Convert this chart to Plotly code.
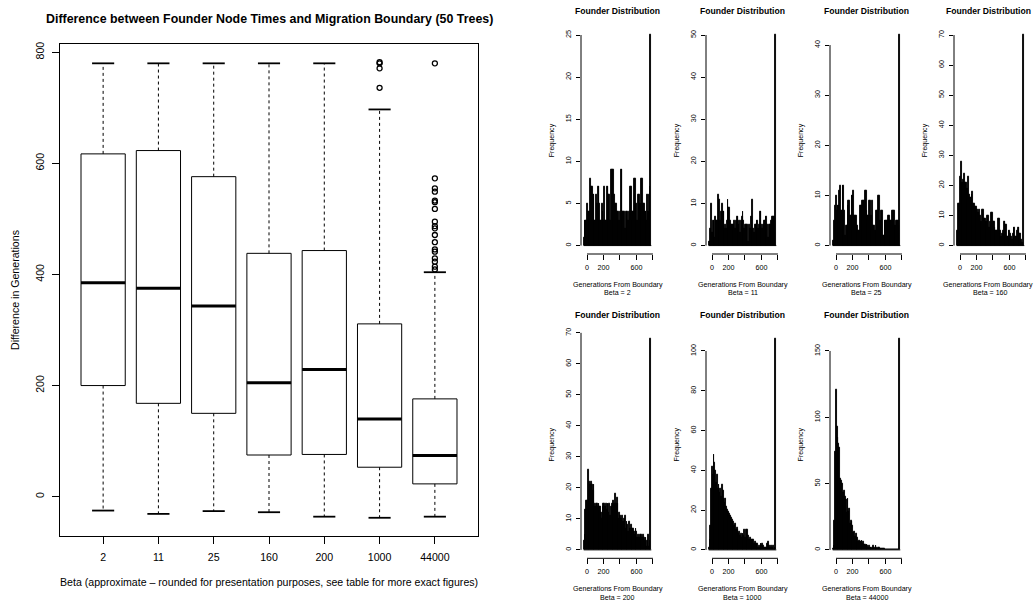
import plotly.graph_objects as go

W, H = 1034, 602
FONT = "Liberation Sans, Arial, Helvetica, sans-serif"

# ---------------- Boxplot data ----------------
beta_labels = ["2", "11", "25", "160", "200", "1000", "44000"]
box_q1 = [200, 168, 150, 75, 76, 53, 23]
box_median = [385, 375, 343, 205, 229, 140, 74]
box_q3 = [617, 623, 576, 438, 443, 311, 176]
box_lower = [-25, -31, -26, -28, -36, -38, -36]
box_upper = [780, 780, 780, 780, 780, 697, 404]
outliers_1000 = [782, 780, 771, 736]
outliers_44000 = [780, 573, 555, 549, 533, 530, 518, 495, 487, 483, 471,
                  458, 445, 441, 429, 423, 414, 409]
box_yticks = [0, 200, 400, 600, 800]

# ---------------- Histogram data (bins of 10, first bin starts at -40) ----------------
bin_start = -40
bin_width = 10
hist_betas = ["2", "11", "25", "160", "200", "1000", "44000"]

counts_2 = [1, 3, 3, 3, 5, 4, 3, 4, 8, 7,
            7, 6, 6, 3, 3, 6, 5, 7, 7, 5,
            3, 3, 5, 4, 3, 7, 3, 3, 7, 7,
            6, 6, 3, 9, 9, 9, 9, 6, 5, 5,
            4, 3, 4, 3, 4, 9, 9, 4, 4, 4,
            2, 4, 4, 4, 3, 4, 7, 7, 3, 4,
            4, 8, 8, 5, 5, 3, 6, 6, 5, 5,
            8, 8, 5, 5, 4, 4, 3, 6, 4, 6,
            7, 25]
counts_11 = [1, 1, 4, 10, 3, 6, 6, 2, 7, 6,
             6, 12, 11, 11, 6, 8, 10, 8, 8, 4,
             5, 4, 6, 11, 9, 9, 6, 5, 5, 4,
             5, 6, 4, 6, 7, 7, 5, 6, 3, 6,
             7, 8, 6, 4, 5, 5, 5, 5, 1, 5,
             4, 7, 7, 11, 4, 3, 5, 5, 6, 6,
             4, 5, 8, 8, 5, 4, 5, 6, 6, 7,
             7, 5, 2, 5, 5, 4, 6, 7, 7, 7,
             3, 50]
counts_25 = [1, 1, 5, 8, 10, 7, 8, 8, 11, 12,
             7, 7, 12, 12, 7, 2, 4, 4, 8, 9,
             9, 6, 6, 10, 10, 11, 6, 6, 6, 4,
             4, 3, 3, 8, 8, 7, 9, 9, 9, 11,
             11, 7, 6, 6, 9, 9, 6, 6, 9, 4,
             4, 3, 3, 7, 7, 10, 10, 5, 5, 7,
             7, 2, 2, 5, 5, 5, 5, 6, 6, 2,
             5, 5, 7, 7, 7, 4, 4, 5, 5, 5,
             4, 42]
counts_160 = [5, 5, 14, 14, 23, 28, 21, 21, 22, 24,
              21, 21, 19, 19, 23, 17, 16, 16, 17, 18,
              14, 14, 13, 13, 13, 12, 11, 12, 10, 8,
              8, 12, 12, 9, 9, 8, 8, 10, 10, 6,
              8, 7, 11, 11, 8, 8, 6, 5, 5, 5,
              9, 9, 5, 5, 3, 4, 5, 8, 8, 7,
              7, 3, 3, 5, 5, 4, 3, 2, 4, 6,
              6, 3, 3, 5, 6, 6, 4, 4, 2, 1,
              1, 70]
counts_200 = [3, 5, 13, 16, 16, 26, 20, 22, 21, 22,
              21, 19, 21, 15, 14, 15, 15, 14, 15, 14,
              14, 12, 10, 14, 15, 15, 14, 15, 13, 15,
              12, 15, 11, 14, 15, 13, 16, 15, 18, 15,
              17, 15, 10, 12, 11, 10, 8, 11, 9, 10,
              11, 7, 9, 8, 6, 9, 7, 8, 6, 7,
              7, 6, 5, 7, 6, 4, 5, 4, 5, 4,
              5, 4, 5, 4, 3, 4, 1, 3, 5, 1,
              3, 68]
counts_1000 = [1, 5, 12, 31, 42, 38, 48, 44, 40, 34,
               38, 31, 33, 29, 31, 27, 33, 30, 26, 24,
               26, 22, 20, 19, 19, 18, 17, 16, 15, 13,
               14, 12, 13, 10, 11, 10, 8, 9, 7, 8,
               6, 8, 7, 10, 6, 10, 8, 10, 7, 5,
               6, 5, 4, 5, 5, 3, 4, 3, 2, 3,
               1, 2, 1, 3, 2, 3, 2, 1, 1, 0,
               1, 3, 4, 2, 1, 0, 2, 1, 2, 0,
               1, 106]
counts_44000 = [1, 3, 22, 74, 121, 93, 85, 80, 77, 54,
                52, 50, 40, 43, 45, 40, 38, 28, 39, 29,
                31, 20, 22, 21, 18, 13, 14, 10, 12, 8,
                9, 6, 7, 6, 6, 7, 5, 6, 4, 4,
                3, 4, 3, 2, 3, 2, 2, 1, 2, 3,
                2, 1, 3, 2, 1, 2, 2, 1, 1, 1,
                1, 1, 1, 0, 0, 0, 0, 0, 0, 0,
                0, 0, 0, 0, 0, 0, 0, 0, 0, 0,
                0, 159]
hist_counts = [counts_2, counts_11, counts_25, counts_160, counts_200,
               counts_1000, counts_44000]
hist_yticks = [[0, 5, 10, 15, 20, 25],
               [0, 10, 20, 30, 40, 50],
               [0, 10, 20, 30, 40],
               [0, 10, 20, 30, 40, 50, 60, 70],
               [0, 10, 20, 30, 40, 50, 60, 70],
               [0, 20, 40, 60, 80, 100],
               [0, 50, 100, 150]]
hist_xticks = [0, 200, 400, 600, 800]
hist_xticktext = ["0", "200", "", "600", ""]

# ---------------- Layout geometry (pixels) ----------------
BOX_L, BOX_R, BOX_T, BOX_B = 60, 478, 44, 536
HIST_LEFTS = [581, 706, 830, 954, 581, 706, 830]
HIST_W = 73
ROWS = [(26.6, 254.0), (330.6, 558.3)]


def fx(p):
    return p / W


def fy(p):
    return 1 - p / H


fig = go.Figure()
annotations = []
shapes = []

# ---------------- Boxplot ----------------
n = len(beta_labels)
pos = list(range(1, n + 1))
hb, hc = 0.4, 0.2
bx, by, mx, my, wx, wy, cx, cy = [], [], [], [], [], [], [], []
for i in range(n):
    p = pos[i]
    bx += [p - hb, p + hb, p + hb, p - hb, p - hb, None]
    by += [box_q1[i], box_q1[i], box_q3[i], box_q3[i], box_q1[i], None]
    mx += [p - hb, p + hb, None]
    my += [box_median[i], box_median[i], None]
    wx += [p, p, None, p, p, None]
    wy += [box_q3[i], box_upper[i], None, box_q1[i], box_lower[i], None]
    cx += [p - hc, p + hc, None, p - hc, p + hc, None]
    cy += [box_upper[i], box_upper[i], None, box_lower[i], box_lower[i], None]

fig.add_trace(go.Scatter(x=wx, y=wy, mode="lines", xaxis="x", yaxis="y",
                         line=dict(color="black", width=1, dash="3px,3px"),
                         hoverinfo="skip", showlegend=False))
fig.add_trace(go.Scatter(x=cx, y=cy, mode="lines", xaxis="x", yaxis="y",
                         line=dict(color="black", width=1.8),
                         hoverinfo="skip", showlegend=False))
fig.add_trace(go.Scatter(x=bx, y=by, mode="lines", xaxis="x", yaxis="y",
                         line=dict(color="black", width=1),
                         hoverinfo="skip", showlegend=False))
fig.add_trace(go.Scatter(x=mx, y=my, mode="lines", xaxis="x", yaxis="y",
                         line=dict(color="black", width=3),
                         hoverinfo="skip", showlegend=False))
ox = [pos[5]] * len(outliers_1000) + [pos[6]] * len(outliers_44000)
oy = outliers_1000 + outliers_44000
fig.add_trace(go.Scatter(x=ox, y=oy, mode="markers", xaxis="x", yaxis="y",
                         marker=dict(symbol="circle-open", size=5, color="black",
                                     line=dict(width=1.3, color="black")),
                         hoverinfo="skip", showlegend=False))

all_vals = box_lower + box_upper + outliers_1000 + outliers_44000
lo, hi = min(all_vals), max(all_vals)
pad = 0.04 * (hi - lo)

axis_common = dict(showgrid=False, zeroline=False, automargin=False,
                   tickcolor="black", linecolor="black")
fig.update_layout(
    xaxis=dict(domain=[fx(BOX_L), fx(BOX_R)], range=[0.5 - 0.04 * n, n + 0.5 + 0.04 * n],
               tickvals=pos, ticktext=beta_labels, showline=True, mirror=True,
               linewidth=1, ticks="outside", ticklen=7, ticklabelstandoff=4,
               tickfont=dict(size=10.6, color="black", family=FONT), anchor="y",
               **axis_common),
    yaxis=dict(domain=[fy(BOX_B), fy(BOX_T)], range=[lo - pad, hi + pad],
               tickvals=box_yticks, ticktext=[str(v) for v in box_yticks],
               showline=True, mirror=True, linewidth=1, ticks="outside", ticklen=7,
               tickangle=-90, ticklabelstandoff=4,
               tickfont=dict(size=10.6, color="black", family=FONT), anchor="x",
               **axis_common),
)
annotations.append(dict(text="<b>Difference between Founder Node Times and Migration Boundary (50 Trees)</b>",
                        x=fx((BOX_L + BOX_R) / 2), y=fy(19), xref="paper", yref="paper",
                        showarrow=False, xanchor="center", yanchor="middle",
                        font=dict(size=12.4, color="black", family=FONT)))
annotations.append(dict(text="Beta (approximate \u2013 rounded for presentation purposes, see table for more exact figures)",
                        x=fx((BOX_L + BOX_R) / 2), y=fy(582), xref="paper", yref="paper",
                        showarrow=False, xanchor="center", yanchor="middle",
                        font=dict(size=10.6, color="black", family=FONT)))
annotations.append(dict(text="Difference in Generations", textangle=-90,
                        x=fx(15), y=fy((BOX_T + BOX_B) / 2), xref="paper", yref="paper",
                        showarrow=False, xanchor="center", yanchor="middle",
                        font=dict(size=10.6, color="black", family=FONT)))

# ---------------- Histograms ----------------
layout_axes = {}
for k, counts in enumerate(hist_counts):
    ax_id = k + 2
    xa, ya = f"x{ax_id}", f"y{ax_id}"
    nb = len(counts)
    centers = [bin_start + bin_width * (j + 0.5) for j in range(nb)]
    edge_lo, edge_hi = bin_start, bin_start + bin_width * nb
    xr = 0.04 * (edge_hi - edge_lo)
    M = max(counts)
    # baseline of the histogram bars (zero-height bins still show their border)
    fig.add_trace(go.Scatter(x=[edge_lo, edge_hi], y=[0, 0], mode="lines",
                             xaxis=xa, yaxis=ya, line=dict(color="black", width=1),
                             hoverinfo="skip", showlegend=False))
    fig.add_trace(go.Bar(x=centers, y=counts, width=bin_width, xaxis=xa, yaxis=ya,
                         marker=dict(color="black", line=dict(color="black", width=0.9)),
                         hoverinfo="skip", showlegend=False))
    left = HIST_LEFTS[k]
    top, bottom = ROWS[0] if k < 4 else ROWS[1]
    layout_axes[f"xaxis{ax_id}"] = dict(
        domain=[fx(left), fx(left + HIST_W)], range=[edge_lo - xr, edge_hi + xr],
        tickvals=hist_xticks, ticktext=hist_xticktext, showline=False,
        ticks="outside", ticklen=4.5, tickwidth=1, ticklabelstandoff=2,
        tickfont=dict(size=7.2, color="black", family=FONT), anchor=ya, **axis_common)
    yt = hist_yticks[k]
    layout_axes[f"yaxis{ax_id}"] = dict(
        domain=[fy(bottom), fy(top)], range=[-0.04 * M, 1.04 * M],
        tickvals=yt, ticktext=[str(v) for v in yt], showline=False,
        ticks="outside", ticklen=4.5, tickwidth=1, tickangle=-90, ticklabelstandoff=2,
        tickfont=dict(size=7.2, color="black", family=FONT), anchor=xa, **axis_common)
    shapes.append(dict(type="line", xref=xa, yref=f"{ya} domain", x0=hist_xticks[0],
                       x1=hist_xticks[-1], y0=0, y1=0, line=dict(color="black", width=1)))
    shapes.append(dict(type="line", xref=f"{xa} domain", yref=ya, x0=0, x1=0,
                       y0=yt[0], y1=yt[-1], line=dict(color="black", width=1)))
    cxp = left + HIST_W / 2
    # keep the right-most column's centred texts inside the page
    cxt = min(cxp, W - 46)
    annotations.append(dict(text="<b>Founder Distribution</b>", x=fx(cxt), y=fy(top - 16),
                            xref="paper", yref="paper", showarrow=False,
                            xanchor="center", yanchor="middle",
                            font=dict(size=8.6, color="black", family=FONT)))
    annotations.append(dict(text="Generations From Boundary", x=fx(cxt), y=fy(bottom + 31),
                            xref="paper", yref="paper", showarrow=False,
                            xanchor="center", yanchor="middle",
                            font=dict(size=7.1, color="black", family=FONT)))
    annotations.append(dict(text=f"Beta = {hist_betas[k]}", x=fx(cxp), y=fy(bottom + 39.5),
                            xref="paper", yref="paper", showarrow=False,
                            xanchor="center", yanchor="middle",
                            font=dict(size=7.1, color="black", family=FONT)))
    annotations.append(dict(text="Frequency", textangle=-90, x=fx(left - 29),
                            y=fy((top + bottom) / 2), xref="paper", yref="paper",
                            showarrow=False, xanchor="center", yanchor="middle",
                            font=dict(size=7.1, color="black", family=FONT)))

fig.update_layout(**layout_axes)
fig.update_layout(width=W, height=H, autosize=False,
                  margin=dict(l=0, r=0, t=0, b=0, pad=0),
                  paper_bgcolor="white", plot_bgcolor="white",
                  bargap=0, showlegend=False,
                  annotations=annotations, shapes=shapes,
                  font=dict(family=FONT, color="black"))

fig.write_html("out.html")
